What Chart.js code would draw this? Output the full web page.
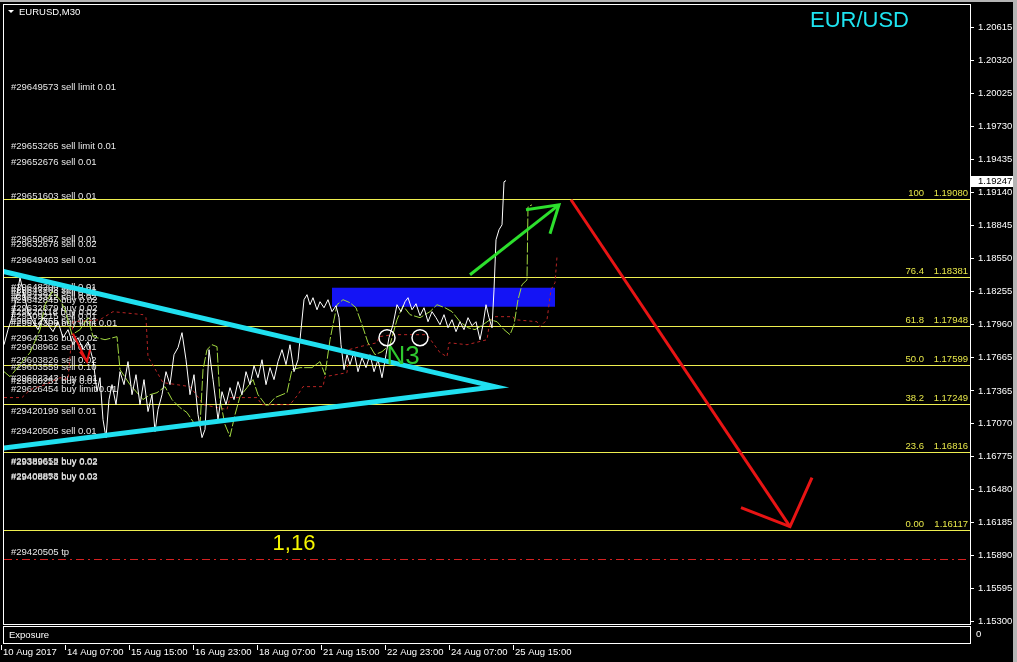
<!DOCTYPE html>
<html>
<head>
<meta charset="utf-8">
<title>EURUSD,M30</title>
<script src="https://cdn.jsdelivr.net/npm/chart.js@4.4.1/dist/chart.umd.min.js"></script>
<style>
  html, body { margin: 0; padding: 0; background: #000; overflow: hidden; }
  canvas { display: block; }
</style>
</head>
<body>
<canvas id="eurusdChart" width="1017" height="662"></canvas>
<script>
// x = M30 bar index counted from the left edge of the window
const priceBars = [
    0, 4, 8, 12, 16, 20, 24, 29, 34, 39,
    44, 49, 54, 59, 64, 69, 74, 79, 84, 89,
    93, 96, 99, 102, 105, 108, 112, 116, 120, 124,
    128, 132, 136, 140, 144, 148, 151, 154, 158, 162,
    166, 170, 174, 178, 182, 186, 190, 194, 198, 201,
    205, 209, 214, 218, 222, 226, 230, 234, 238, 242,
    246, 250, 254, 258, 262, 266, 270, 274, 278, 282,
    286, 290, 294, 297, 300, 303, 306, 309, 313, 316,
    320, 324, 328, 332, 335, 337, 340, 343, 346, 350,
    354, 358, 362, 366, 370, 374, 378, 382, 385, 389,
    393, 397, 401, 404, 408, 412, 416, 420, 424, 428,
    432, 436, 440, 444, 448, 452, 456, 460, 464, 468,
    472, 476, 479, 482, 485, 488, 490, 492, 495, 498,
    500, 502
];
const priceValues = [
    1.17778, 1.17913, 1.18020, 1.18181, 1.18378, 1.18226, 1.18074, 1.17984, 1.17913, 1.18020,
    1.17957, 1.17895, 1.17984, 1.17841, 1.17913, 1.17778, 1.17841, 1.17734, 1.17805, 1.17644,
    1.17358, 1.17483, 1.17108, 1.16947, 1.17287, 1.17421, 1.17242, 1.17537, 1.17421, 1.17627,
    1.17331, 1.17510, 1.17242, 1.17466, 1.17180, 1.17331, 1.17001, 1.17198, 1.17331, 1.17537,
    1.17421, 1.17689, 1.17752, 1.17886, 1.17644, 1.17331, 1.17510, 1.17153, 1.16947, 1.17019,
    1.17734, 1.17466, 1.17108, 1.17358, 1.17242, 1.17394, 1.17287, 1.17448, 1.17331, 1.17537,
    1.17421, 1.17591, 1.17483, 1.17644, 1.17421, 1.17573, 1.17466, 1.17627, 1.17734, 1.17600,
    1.17778, 1.17537, 1.17644, 1.17913, 1.18181, 1.18226, 1.18136, 1.18199, 1.18091, 1.18163,
    1.18109, 1.18181, 1.18074, 1.18127, 1.18020, 1.17778, 1.17555, 1.17689, 1.17600, 1.17716,
    1.17537, 1.17662, 1.17573, 1.17689, 1.17537, 1.17644, 1.17483, 1.17689, 1.17841, 1.17957,
    1.18136, 1.18074, 1.18163, 1.18199, 1.18091, 1.18145, 1.18038, 1.18109, 1.17984, 1.18074,
    1.18020, 1.17957, 1.18047, 1.17930, 1.18002, 1.17895, 1.17984, 1.17913, 1.18020, 1.17948,
    1.17984, 1.17823, 1.17957, 1.18136, 1.18020, 1.17930, 1.18270, 1.18717, 1.18807, 1.18851,
    1.19236, 1.19247
];

// yellow-green indicator line
const signalBars = [
    0, 6, 16, 26, 36, 41, 48, 56, 61, 68,
    76, 84, 89, 101, 113, 116, 126, 139, 146, 153,
    161, 168, 176, 183, 191, 196, 199, 203, 208, 213,
    216, 221, 226, 231, 236, 243, 249, 254, 263, 271,
    283, 288, 296, 308, 316, 321, 326, 333, 339, 346,
    352, 358, 364, 371, 378, 386, 393, 399, 406, 416,
    426, 433, 441, 448, 456, 464, 471, 479, 486, 493,
    500, 506, 510, 514, 518, 523, 524, 528
];
const signalValues = [
    1.17537, 1.17492, 1.17600, 1.17707, 1.17913, 1.18136, 1.18252, 1.18181, 1.18091, 1.17868,
    1.17913, 1.18020, 1.17850, 1.17823, 1.17850, 1.17555, 1.17421, 1.17287, 1.17331, 1.17349,
    1.17403, 1.17287, 1.17215, 1.17171, 1.17063, 1.17046, 1.17555, 1.17734, 1.17778, 1.17761,
    1.17287, 1.17063, 1.16956, 1.17153, 1.17314, 1.17394, 1.17466, 1.17331, 1.17224, 1.17305,
    1.17349, 1.17555, 1.17573, 1.17573, 1.17627, 1.17510, 1.17823, 1.18136, 1.18181, 1.18154,
    1.18109, 1.17957, 1.17796, 1.17689, 1.17716, 1.17778, 1.18002, 1.18127, 1.18047, 1.18020,
    1.18074, 1.18136, 1.18109, 1.18074, 1.17984, 1.17930, 1.17913, 1.17957, 1.18002, 1.17984,
    1.17913, 1.17868, 1.17957, 1.18181, 1.18315, 1.18359, 1.19012, 1.19030
];

// dark red dotted indicator line
const trendBars = [
    0, 18, 26, 41, 56, 64, 69, 96, 109, 139,
    142, 144, 159, 186, 196, 199, 223, 226, 253, 258,
    286, 294, 299, 319, 321, 343, 345, 356, 373, 375,
    389, 423, 436, 443, 445, 463, 483, 485, 489, 509,
    511, 533, 536, 543, 547, 551, 553
];
const trendValues = [
    1.17305, 1.17305, 1.17376, 1.17421, 1.17483, 1.17466, 1.17984, 1.18002, 1.18074, 1.18047,
    1.18020, 1.17671, 1.17439, 1.17403, 1.17287, 1.17242, 1.17198, 1.17305, 1.17305, 1.17242,
    1.17242, 1.17331, 1.17403, 1.17403, 1.17492, 1.17528, 1.17734, 1.17761, 1.17796, 1.17850,
    1.17868, 1.17868, 1.17707, 1.17671, 1.17796, 1.17778, 1.17823, 1.17939, 1.18029, 1.18029,
    1.18002, 1.17984, 1.17939, 1.18002, 1.18270, 1.18333, 1.18565
];

// drawn objects
const triangleBars = [-4, 491, -4];
const trianglePrices = [1.18440, 1.17403, 1.16849];
const upArrowBars = [466, 555];
const upArrowPrices = [1.18404, 1.19030];
const upHeadBars = [522, 555, 546];
const upHeadPrices = [1.18985, 1.19030, 1.18771];
const downArrowBars = [567, 786];
const downArrowPrices = [1.19075, 1.16151];
const downHeadBars = [737, 786, 808];
const downHeadPrices = [1.16321, 1.16151, 1.16589];
const smallArrowBars = [69, 83];
const smallArrowPrices = [1.17877, 1.17626];
const smallHeadBars = [76, 83, 86];
const smallHeadPrices = [1.17716, 1.17626, 1.17734];
const circleBars = [383, 416];
const circlePrices = [1.17841, 1.17841];
const boxBars = [328, 551];
const boxPrices = [1.18288, 1.18118];

const fibLevels = ['100', '76.4', '61.8', '50.0', '38.2', '23.6', '0.00'];
const fibPrices = [1.19080, 1.18381, 1.17948, 1.17599, 1.17249, 1.16816, 1.16117];
const tpPrice = 1.15865;

const orderLabels = [
    '#29649573 sell limit 0.01', '#29653265 sell limit 0.01', '#29652676 sell 0.01',
    '#29651603 sell 0.01', '#29650687 sell 0.01', '#29632678 sell 0.02', '#29649403 sell 0.01',
    '#29648200 sell 0.01', '#29647703 sell 0.01', '#29643825 sell 0.02', '#29643312 sell 0.02',
    '#29642845 buy 0.02', '#29620118 buy 0.02', '#29632879 buy 0.02', '#29509215 sell 0.01',
    '#29512755 sell 0.01', '#29514306 buy limit 0.01', '#29643136 buy 0.02', '#29608962 sell 0.01',
    '#29603826 sell 0.02', '#29603559 sell 0.10', '#29602343 buy 0.01', '#29600251 buy 0.01',
    '#29626454 buy limit 0.01', '#29420199 sell 0.01', '#29420505 sell 0.01',
    '#29389658 buy 0.02', '#29389612 buy 0.02', '#29408853 buy 0.02', '#29408876 buy 0.03',
    '#29420505 tp'
];
const orderPrices = [
    1.20085, 1.19549, 1.19406,
    1.19102, 1.18717, 1.18673, 1.18530,
    1.18288, 1.18261, 1.18234, 1.18199,
    1.18172, 1.18065, 1.18100, 1.18029,
    1.17984, 1.17966, 1.17832, 1.17752,
    1.17635, 1.17573, 1.17474, 1.17448,
    1.17376, 1.17180, 1.17001,
    1.16732, 1.16724, 1.16598, 1.16589,
    1.15919
];

const noteTexts = ['N3', '1,16'];
const noteBars = [399, 290];
const notePrices = [1.17671, 1.15991];

const yTicks = [1.20615, 1.20320, 1.20025, 1.19730, 1.19435, 1.19140, 1.18845, 1.18550, 1.18255,
    1.17960, 1.17665, 1.17365, 1.17070, 1.16775, 1.16480, 1.16185, 1.15890, 1.15595, 1.15300];
const xTickBars = [0, 64, 128, 192, 256, 320, 384, 448, 512];
const xTickLabels = ['10 Aug 2017', '14 Aug 07:00', '15 Aug 15:00', '16 Aug 23:00', '18 Aug 07:00',
    '21 Aug 15:00', '22 Aug 23:00', '24 Aug 07:00', '25 Aug 15:00'];

const FONT = '"Liberation Sans", Arial, sans-serif';

function points(bars, values) {
    return bars.map((b, i) => ({ x: b, y: values[i] }));
}

function lineSet(bars, values, color, width, dash) {
    return {
        data: points(bars, values),
        borderColor: color,
        borderWidth: width,
        borderDash: dash || [],
        pointRadius: 0,
        tension: 0,
        fill: false
    };
}

const overlay = {
    id: 'overlay',
    beforeDraw(chart) {
        const ctx = chart.ctx;
        ctx.save();
        ctx.fillStyle = '#000';
        ctx.fillRect(0, 0, chart.width, chart.height);
        ctx.restore();
    },
    beforeDatasetsDraw(chart) {
        const { ctx, chartArea: a, scales: { x, y } } = chart;
        ctx.save();
        ctx.beginPath();
        ctx.rect(a.left, a.top, a.right - a.left, a.bottom - a.top);
        ctx.clip();

        // blue zone
        const bx0 = x.getPixelForValue(boxBars[0]);
        const bx1 = x.getPixelForValue(boxBars[1]);
        const by0 = y.getPixelForValue(boxPrices[0]);
        const by1 = y.getPixelForValue(boxPrices[1]);
        ctx.fillStyle = '#1414f5';
        ctx.fillRect(bx0, by0, bx1 - bx0, by1 - by0);

        // fibo levels
        ctx.font = '9.5px ' + FONT;
        ctx.textBaseline = 'bottom';
        fibPrices.forEach((p, i) => {
            const py = Math.round(y.getPixelForValue(p)) + 0.5;
            ctx.strokeStyle = '#eeee50';
            ctx.lineWidth = 1;
            ctx.beginPath();
            ctx.moveTo(a.left, py);
            ctx.lineTo(a.right, py);
            ctx.stroke();
            ctx.fillStyle = '#e8e84a';
            ctx.textAlign = 'right';
            ctx.fillText(fibLevels[i], a.right - 46, py - 1);
            ctx.fillText(p.toFixed(5), a.right - 2, py - 1);
        });

        // take profit line
        const ty = Math.round(y.getPixelForValue(tpPrice)) + 0.5;
        ctx.strokeStyle = '#d42020';
        ctx.setLineDash([8, 4, 2, 4]);
        ctx.beginPath();
        ctx.moveTo(a.left, ty);
        ctx.lineTo(a.right, ty);
        ctx.stroke();
        ctx.setLineDash([]);

        // order labels
        ctx.fillStyle = '#e6e6e6';
        ctx.textAlign = 'left';
        ctx.textBaseline = 'middle';
        orderLabels.forEach((t, i) => {
            ctx.fillText(t, a.left + 7, y.getPixelForValue(orderPrices[i]));
        });
        ctx.restore();
    },
    afterDatasetsDraw(chart) {
        const { ctx, chartArea: a, scales: { x, y } } = chart;
        ctx.save();
        ctx.textAlign = 'center';
        ctx.textBaseline = 'middle';
        ctx.font = '26px ' + FONT;
        ctx.fillStyle = '#2fc82f';
        ctx.fillText(noteTexts[0], x.getPixelForValue(noteBars[0]), y.getPixelForValue(notePrices[0]));
        ctx.font = '22px ' + FONT;
        ctx.fillStyle = '#f5f500';
        ctx.fillText(noteTexts[1], x.getPixelForValue(noteBars[1]), y.getPixelForValue(notePrices[1]));
        ctx.textAlign = 'left';
        ctx.fillStyle = '#1ee4f0';
        ctx.fillText('EUR/USD', a.right - 160, a.top + 16);
        ctx.restore();
    },
    afterDraw(chart) {
        const { ctx, chartArea: a, scales: { x, y } } = chart;
        ctx.save();
        // window edges
        ctx.fillStyle = '#b4b4b4';
        ctx.fillRect(0, 0, chart.width, 2);
        ctx.fillRect(1013, 0, 4, chart.height);

        // frames
        ctx.strokeStyle = '#fff';
        ctx.lineWidth = 1;
        ctx.strokeRect(3.5, a.top - 0.5, a.right - 3, a.bottom - a.top + 1);
        ctx.strokeRect(3.5, a.bottom + 2.5, a.right - 3, 17);

        // title
        ctx.fillStyle = '#fff';
        ctx.beginPath();
        ctx.moveTo(8, 10);
        ctx.lineTo(14, 10);
        ctx.lineTo(11, 13);
        ctx.closePath();
        ctx.fill();
        ctx.font = '9.5px ' + FONT;
        ctx.textAlign = 'left';
        ctx.textBaseline = 'middle';
        ctx.fillText('EURUSD,M30', 19, 12);
        ctx.fillText('Exposure', 9, a.bottom + 11);
        ctx.fillText('0', a.right + 6, a.bottom + 10);

        // time axis tick marks
        ctx.strokeStyle = '#fff';
        xTickBars.forEach(b => {
            const px = Math.round(x.getPixelForValue(b)) - 2.5;
            ctx.beginPath();
            ctx.moveTo(px, a.bottom + 21);
            ctx.lineTo(px, a.bottom + 26);
            ctx.stroke();
        });

        // current price tag
        const last = priceValues[priceValues.length - 1];
        const py = Math.round(y.getPixelForValue(last));
        ctx.fillStyle = '#fff';
        ctx.fillRect(a.right + 1, py - 5, 42, 11);
        ctx.fillStyle = '#000';
        ctx.fillText(last.toFixed(5), a.right + 8, py + 0.5);
        ctx.restore();
    }
};

function renderChart() {
    const ctx = document.getElementById('eurusdChart').getContext('2d');

    new Chart(ctx, {
        type: 'line',
        data: {
            datasets: [
                {
                    data: points(circleBars, circlePrices),
                    showLine: false,
                    pointRadius: 8,
                    pointBorderColor: '#fff',
                    pointBorderWidth: 1.5,
                    pointBackgroundColor: 'rgba(0,0,0,0)'
                },
                lineSet(smallArrowBars, smallArrowPrices, '#e81414', 2),
                lineSet(smallHeadBars, smallHeadPrices, '#e81414', 2),
                lineSet(upArrowBars, upArrowPrices, '#2de02d', 3),
                lineSet(upHeadBars, upHeadPrices, '#2de02d', 3),
                lineSet(downArrowBars, downArrowPrices, '#e81414', 3),
                lineSet(downHeadBars, downHeadPrices, '#e81414', 3),
                Object.assign(lineSet(triangleBars, trianglePrices, '#20e0f0', 5), { borderJoinStyle: 'miter' }),
                lineSet(priceBars, priceValues, '#ffffff', 1),
                lineSet(signalBars, signalValues, '#a2d840', 1, [10, 2]),
                lineSet(trendBars, trendValues, '#b82424', 1, [3, 3])
            ]
        },
        options: {
            responsive: false,
            animation: false,
            events: [],
            layout: { autoPadding: false, padding: { left: 4, top: 5, right: 0, bottom: 0 } },
            plugins: {
                legend: { display: false },
                tooltip: { enabled: false }
            },
            scales: {
                x: {
                    type: 'linear',
                    position: 'bottom',
                    min: 0,
                    max: 966,
                    grid: { display: false, drawTicks: false },
                    border: { display: false },
                    afterBuildTicks: scale => {
                        scale.ticks = xTickBars.map(v => ({ value: v }));
                    },
                    afterFit: scale => {
                        scale.height = 38;
                        scale.paddingLeft = 0;
                        scale.paddingRight = 0;
                    },
                    ticks: {
                        color: '#fff',
                        font: { family: FONT, size: 9.5 },
                        align: 'start',
                        labelOffset: -1,
                        padding: 23,
                        autoSkip: false,
                        maxRotation: 0,
                        callback: (v) => xTickLabels[xTickBars.indexOf(v)]
                    }
                },
                y: {
                    type: 'linear',
                    position: 'right',
                    min: 1.15279,
                    max: 1.20818,
                    grid: { drawOnChartArea: false, color: '#fff', tickLength: 4 },
                    border: { display: false },
                    afterBuildTicks: scale => {
                        scale.ticks = yTicks.map(v => ({ value: v }));
                    },
                    afterFit: scale => {
                        scale.width = 47;
                        scale.paddingTop = 0;
                        scale.paddingBottom = 0;
                    },
                    ticks: {
                        color: '#fff',
                        font: { family: FONT, size: 9.5 },
                        padding: 4,
                        autoSkip: false,
                        callback: (v) => v.toFixed(5)
                    }
                }
            }
        },
        plugins: [overlay]
    });
}

renderChart();
</script>
</body>
</html>
